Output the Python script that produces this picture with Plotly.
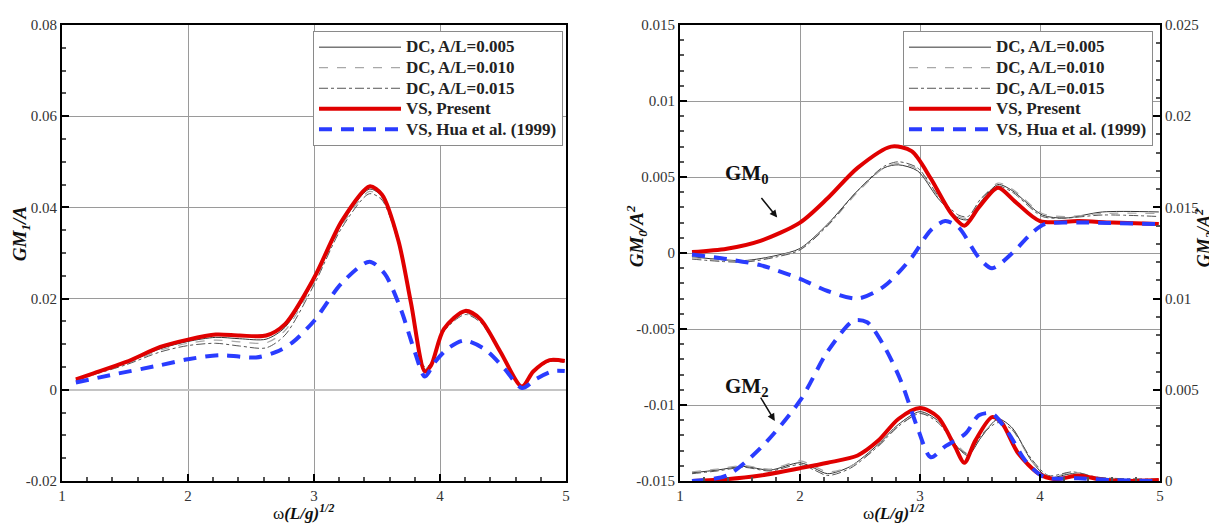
import plotly.graph_objects as go

# ---------------- Left panel: GM1/A ----------------
x_left_dc = [1.11, 1.25, 1.51, 1.78, 2.0, 2.22, 2.41, 2.62, 2.77, 3.0, 3.22, 3.44, 3.54, 3.67,
             3.77, 3.88, 3.93, 4.03, 4.2, 4.32, 4.48, 4.65, 4.74, 4.87, 4.99]
gm1_vs_present = [0.0023, 0.0036, 0.0061, 0.0094, 0.0110, 0.0121, 0.0119, 0.0119, 0.0144, 0.0245,
                  0.0370, 0.0446, 0.0428, 0.0327, 0.0190, 0.0040, 0.0054, 0.0133, 0.0173, 0.0155,
                  0.0083, 0.0007, 0.0040, 0.0065, 0.0063]
gm1_dc_005 = [0.0022, 0.0035, 0.0059, 0.0090, 0.0106, 0.0115, 0.0112, 0.0111, 0.0137, 0.0240,
              0.0364, 0.0440, 0.0424, 0.0325, 0.0190, 0.0045, 0.0056, 0.0131, 0.0170, 0.0152,
              0.0082, 0.0007, 0.0040, 0.0064, 0.0062]
gm1_dc_010 = [0.0021, 0.0034, 0.0057, 0.0087, 0.0102, 0.0109, 0.0105, 0.0103, 0.0130, 0.0236,
              0.0360, 0.0435, 0.0420, 0.0322, 0.0188, 0.0047, 0.0057, 0.0130, 0.0168, 0.0150,
              0.0081, 0.0007, 0.0039, 0.0063, 0.0061]
gm1_dc_015 = [0.0020, 0.0033, 0.0055, 0.0083, 0.0097, 0.0102, 0.0096, 0.0092, 0.0120, 0.0230,
              0.0355, 0.0430, 0.0416, 0.0320, 0.0187, 0.0050, 0.0058, 0.0128, 0.0165, 0.0148,
              0.0080, 0.0007, 0.0039, 0.0062, 0.0060]
x_left_hua = [1.11, 1.38, 1.78, 2.0, 2.25, 2.54, 2.7, 2.83, 3.0, 3.22, 3.44, 3.56, 3.69, 3.8,
              3.88, 3.96, 4.06, 4.19, 4.35, 4.51, 4.65, 4.77, 4.9, 4.99]
gm1_vs_hua = [0.0016, 0.0032, 0.0054, 0.0067, 0.0076, 0.0071, 0.0083, 0.0104, 0.0151, 0.0234,
              0.0281, 0.0255, 0.0176, 0.0083, 0.0029, 0.0061, 0.0090, 0.0108, 0.0090, 0.0047,
              0.0004, 0.0025, 0.0041, 0.0041]

# ---------------- Right panel: GM0/A^2 ----------------
x_gm0_present = [1.1, 1.39, 1.67, 2.0, 2.23, 2.48, 2.76, 2.93, 3.09, 3.26, 3.37, 3.49, 3.65, 3.79,
                 4.0, 4.32, 4.6, 4.99]
gm0_vs_present = [0.00006, 0.00028, 0.0008, 0.002, 0.0036, 0.0056, 0.0070, 0.0067, 0.0049, 0.0026,
                  0.0018, 0.0030, 0.0043, 0.0034, 0.0021, 0.0021, 0.0020, 0.0019]
x_gm0_hua = [1.1, 1.39, 1.67, 2.0, 2.23, 2.48, 2.70, 2.93, 3.09, 3.21, 3.32, 3.49, 3.6, 3.77,
             3.93, 4.04, 4.32, 4.99]
gm0_vs_hua = [-0.0001, -0.0004, -0.0008, -0.0017, -0.0025, -0.0030, -0.0022, -0.0003, 0.0015,
              0.0021, 0.0017, -0.0003, -0.0010, 0.0000, 0.0013, 0.0019, 0.0020, 0.0019]
x_gm0_dc = [1.1, 1.53, 1.81, 2.0, 2.23, 2.48, 2.70, 2.82, 2.98, 3.15, 3.32, 3.40, 3.51, 3.65,
            3.77, 4.02, 4.21, 4.52, 4.99]
gm0_dc_005 = [-0.00025, -0.0005, -0.00015, 0.0003, 0.0019, 0.0041, 0.0056, 0.0058, 0.0054, 0.0036,
              0.0023, 0.0022, 0.0034, 0.0045, 0.0041, 0.0025, 0.0023, 0.0027, 0.0027]
gm0_dc_010 = [-0.0003, -0.00055, -0.0002, 0.00025, 0.0018, 0.0040, 0.0056, 0.0059, 0.0055, 0.0037,
              0.0024, 0.0023, 0.0035, 0.0046, 0.0042, 0.0026, 0.0024, 0.0026, 0.0026]
gm0_dc_015 = [-0.0004, -0.0006, -0.00025, 0.0002, 0.0018, 0.0041, 0.0057, 0.0060, 0.0056, 0.0038,
              0.0025, 0.0024, 0.0036, 0.0044, 0.0040, 0.0024, 0.0023, 0.0025, 0.0024]

# ---------------- Right panel: GM2/A^2 (right axis) ----------------
x_gm2_present = [1.1, 1.39, 1.67, 2.0, 2.23, 2.48, 2.65, 2.82, 3.0, 3.15, 3.29, 3.37, 3.46, 3.6,
                 3.68, 3.82, 3.99, 4.13, 4.32, 4.49, 4.69, 4.99]
gm2_vs_present = [0.0, 0.0001, 0.0003, 0.0007, 0.0010, 0.0014, 0.0022, 0.0034, 0.0040, 0.0035,
                  0.0019, 0.0010, 0.0022, 0.0035, 0.0032, 0.0015, 0.0004, 0.0001, 0.0003, 0.0001,
                  0.0, 0.00005]
x_gm2_hua = [1.1, 1.39, 1.67, 2.0, 2.23, 2.45, 2.56, 2.70, 2.84, 2.98, 3.09, 3.21, 3.38, 3.49,
             3.6, 3.74, 3.88, 4.04, 4.32, 4.6, 4.99]
gm2_vs_hua = [0.0, 0.0003, 0.0018, 0.0044, 0.0071, 0.0088, 0.0087, 0.0074, 0.0055, 0.0029, 0.0013,
              0.0019, 0.0026, 0.0036, 0.0037, 0.0026, 0.0011, 0.0002, 0.00015, 0.00005, 0.0]
x_gm2_dc = [1.1, 1.31, 1.53, 1.75, 2.0, 2.12, 2.23, 2.42, 2.65, 2.82, 3.0, 3.15, 3.32, 3.4, 3.51,
            3.65, 3.77, 3.93, 4.07, 4.27, 4.49, 4.99]
gm2_dc_005 = [0.00045, 0.0006, 0.0008, 0.0006, 0.0010, 0.0007, 0.0004, 0.0008, 0.0020, 0.0031,
              0.0038, 0.0033, 0.0018, 0.0014, 0.0024, 0.0034, 0.0029, 0.0011, 0.0002, 0.0004,
              0.00015, 0.00005]
gm2_dc_010 = [0.0005, 0.00065, 0.00085, 0.00065, 0.0011, 0.0008, 0.0005, 0.0008, 0.0019, 0.0030,
              0.0037, 0.0033, 0.0019, 0.0015, 0.0025, 0.0033, 0.0028, 0.0011, 0.0002, 0.0005,
              0.0002, 0.00005]
gm2_dc_015 = [0.0004, 0.00055, 0.00075, 0.00055, 0.0009, 0.0006, 0.0003, 0.0007, 0.0019, 0.0030,
              0.0037, 0.0032, 0.0018, 0.0015, 0.0025, 0.0032, 0.0028, 0.0012, 0.0003, 0.0005,
              0.0002, 0.0001]

# ---------------- Axis tick labels ----------------
x_ticks = [1, 2, 3, 4, 5]
x_ticktext = ["1", "2", "3", "4", "5"]
y1_ticks = [-0.02, 0, 0.02, 0.04, 0.06, 0.08]
y1_ticktext = ["-0.02", "0", "0.02", "0.04", "0.06", "0.08"]
y2_ticks = [-0.015, -0.01, -0.005, 0, 0.005, 0.01, 0.015]
y2_ticktext = ["-0.015", "-0.01", "-0.005", "0", "0.005", "0.01", "0.015"]
y3_ticks = [0, 0.005, 0.01, 0.015, 0.02, 0.025]
y3_ticktext = ["0", "0.005", "0.01", "0.015", "0.02", "0.025"]

legend_names = ["DC, A/L=0.005", "DC, A/L=0.010", "DC, A/L=0.015", "VS, Present", "VS, Hua et al. (1999)"]

SERIF = "Liberation Serif"
RED = "#e00000"
BLUE = "#2a3cff"
dc_styles = [dict(color="#333333", width=1, dash="solid"),
             dict(color="#a8a8a8", width=1.2, dash="dash"),
             dict(color="#555555", width=1, dash="dashdot")]

# Page has an 8px body margin: figure is sized/offset to compensate.
OFF = 8
W, H = 1217 - OFF, 523 - OFF
ML, MR, MT, MB = 62 - OFF, 57, 17 - OFF, 42
PW, PH = W - ML - MR, H - MT - MB


def px_x(page_x):
    return (page_x - OFF - ML) / PW


def px_y(page_y):
    return (H - MB - (page_y - OFF)) / PH


def legend_label(name):
    return '<span style="font-size:17px">' + name + '</span>'


fig = go.Figure()


def add_set(xdc, dcs, xp, yp, xh, yh, xa, ya, legend, show):
    for i, ys in enumerate(dcs):
        fig.add_trace(go.Scatter(x=xdc, y=ys, mode="lines", name=legend_label(legend_names[i]),
                                 line=dict(shape="spline", smoothing=0.8, **dc_styles[i]),
                                 xaxis=xa, yaxis=ya, legend=legend, showlegend=show))
    fig.add_trace(go.Scatter(x=xp, y=yp, mode="lines", name=legend_label(legend_names[3]),
                             line=dict(color=RED, width=4, shape="spline", smoothing=0.8),
                             xaxis=xa, yaxis=ya, legend=legend, showlegend=show))
    fig.add_trace(go.Scatter(x=xh, y=yh, mode="lines", name=legend_label(legend_names[4]),
                             line=dict(color=BLUE, width=4, dash="13px,9px", shape="spline", smoothing=0.8),
                             xaxis=xa, yaxis=ya, legend=legend, showlegend=show))


add_set(x_left_dc, [gm1_dc_005, gm1_dc_010, gm1_dc_015], x_left_dc, gm1_vs_present,
        x_left_hua, gm1_vs_hua, "x", "y", "legend", True)
add_set(x_gm0_dc, [gm0_dc_005, gm0_dc_010, gm0_dc_015], x_gm0_present, gm0_vs_present,
        x_gm0_hua, gm0_vs_hua, "x2", "y2", "legend2", True)
add_set(x_gm2_dc, [gm2_dc_005, gm2_dc_010, gm2_dc_015], x_gm2_present, gm2_vs_present,
        x_gm2_hua, gm2_vs_hua, "x2", "y3", "legend2", False)

tickfont = dict(family=SERIF, size=15, color="#333333")
common_x = dict(range=[1, 5], tickvals=x_ticks, ticktext=x_ticktext, showgrid=True,
                gridcolor="#9a9a9a", gridwidth=1, zeroline=False, showline=True, linecolor="black",
                linewidth=2, mirror=True, ticks="inside", ticklen=7, tickwidth=2, tickcolor="black",
                minor=dict(dtick=0.2, ticks="inside", ticklen=4, tickcolor="#555555", showgrid=False),
                tickfont=tickfont)
common_y = dict(showgrid=True, gridcolor="#9a9a9a", gridwidth=1, showline=True, linecolor="black",
                linewidth=2, mirror=True, ticks="inside", ticklen=7, tickwidth=2, tickcolor="black",
                tickfont=tickfont)

L0, L1, R0, R1 = px_x(62), px_x(566), px_x(680), px_x(1160)

legend_common = dict(xanchor="right", yanchor="top", bgcolor="white",
                     bordercolor="#8a8a8a", borderwidth=1, itemwidth=82,
                     font=dict(family=SERIF, size=13.5, color="#222222", weight="bold"),
                     tracegroupgap=0)

fig.update_layout(
    width=W, height=H,
    margin=dict(l=ML, r=MR, t=MT, b=MB),
    paper_bgcolor="white", plot_bgcolor="white",
    font=dict(family=SERIF, color="#222222"),
    xaxis=dict(domain=[L0, L1], anchor="y", **common_x),
    yaxis=dict(domain=[0, 1], anchor="x", range=[-0.02, 0.08], tickvals=y1_ticks,
               ticktext=y1_ticktext, zeroline=True, zerolinecolor="#c4c4c4", zerolinewidth=2,
               minor=dict(dtick=0.005, ticks="inside", ticklen=4, tickcolor="#555555", showgrid=False),
               **common_y),
    xaxis2=dict(domain=[R0, R1], anchor="y2", **common_x),
    yaxis2=dict(domain=[0, 1], anchor="x2", range=[-0.015, 0.015], tickvals=y2_ticks,
                ticktext=y2_ticktext, zeroline=False,
                minor=dict(dtick=0.001, ticks="inside", ticklen=4, tickcolor="#555555", showgrid=False),
                **common_y),
    yaxis3=dict(anchor="x2", overlaying="y2", side="right", range=[0, 0.025], tickvals=y3_ticks,
                ticktext=y3_ticktext, showgrid=False, zeroline=False, showline=True, linecolor="black",
                linewidth=2, ticks="inside", ticklen=7, tickwidth=2, tickcolor="black",
                minor=dict(dtick=0.001, ticks="inside", ticklen=4, tickcolor="#555555", showgrid=False),
                tickfont=tickfont),
    legend=dict(x=px_x(563), y=px_y(23), **legend_common),
    legend2=dict(x=px_x(1153), y=px_y(23), **legend_common),
)

title_font = dict(family=SERIF, size=17, color="#111111")
ytitle_font = dict(family=SERIF, size=19, color="#111111")
xtitle = "ω<b><i>(L/g)</i></b><sup><b><i>1/2</i></b></sup>"
ann = [
    dict(text=xtitle, x=px_x(303), y=px_y(513), xref="paper", yref="paper",
         showarrow=False, font=title_font, yanchor="middle", xanchor="center"),
    dict(text=xtitle, x=px_x(893), y=px_y(513), xref="paper", yref="paper",
         showarrow=False, font=title_font, yanchor="middle", xanchor="center"),
    dict(text="<b><i>GM<sub>1</sub>/A</i></b>", x=px_x(21), y=px_y(230), xanchor="center",
         yanchor="middle", xref="paper", yref="paper", showarrow=False, textangle=-90,
         font=ytitle_font),
    dict(text="<b><i>GM<sub>0</sub>/A<sup>2</sup></i></b>", x=px_x(636), y=px_y(232),
         xanchor="center", yanchor="middle", xref="paper", yref="paper", showarrow=False,
         textangle=-90, font=ytitle_font),
    dict(text="<b><i>GM<sub>2</sub>/A<sup>2</sup></i></b>", x=px_x(1204), y=px_y(234),
         xanchor="center", yanchor="middle", xref="paper", yref="paper", showarrow=False,
         textangle=-90, font=dict(family=SERIF, size=18, color="#111111")),
    dict(text="<b>GM<sub>0</sub></b>", x=1.56, y=0.0052, xref="x2", yref="y2", showarrow=False,
         font=dict(family=SERIF, size=21, color="#111111")),
    dict(text="", x=1.81, y=0.00233, xref="x2", yref="y2", showarrow=True, ax=-17, ay=-21,
         arrowhead=2, arrowsize=1, arrowwidth=1.5, arrowcolor="#111111"),
    dict(text="<b>GM<sub>2</sub></b>", x=1.56, y=-0.0088, xref="x2", yref="y2", showarrow=False,
         font=dict(family=SERIF, size=21, color="#111111")),
    dict(text="", x=1.79, y=-0.01106, xref="x2", yref="y2", showarrow=True, ax=-15, ay=-25,
         arrowhead=2, arrowsize=1, arrowwidth=1.5, arrowcolor="#111111"),
]
fig.update_layout(annotations=ann)

fig.write_html("out.html")
